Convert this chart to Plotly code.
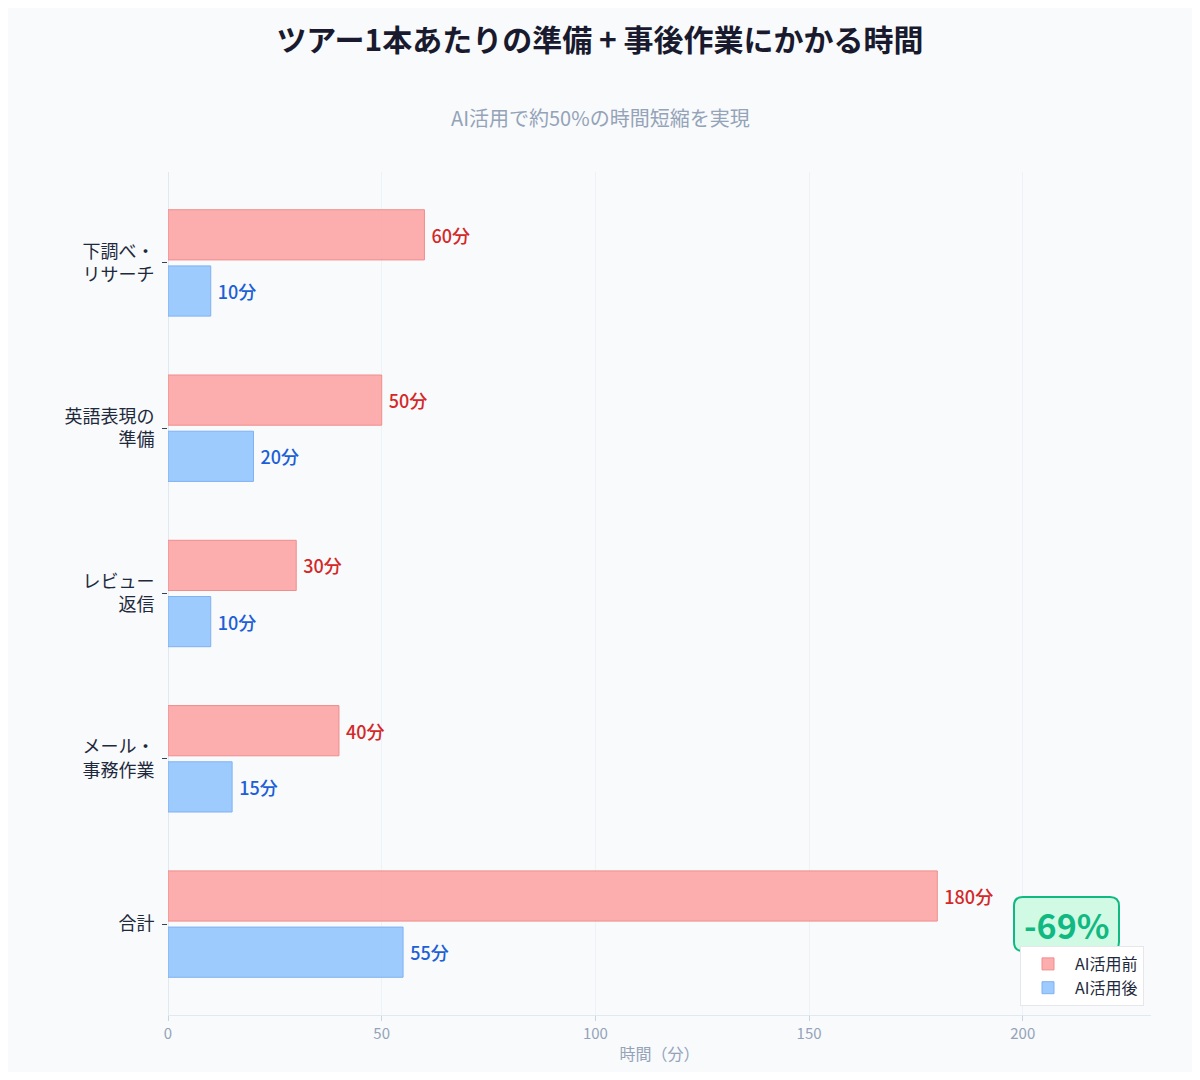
import plotly.graph_objects as go

categories = ["下調べ・<br>リサーチ", "英語表現の<br>準備", "レビュー<br>返信", "メール・<br>事務作業", "合計"]
before_vals = [60, 50, 30, 40, 180]
after_vals = [10, 20, 10, 15, 55]
series_names = ["AI活用前", "AI活用後"]
x_ticks = [0, 50, 100, 150, 200]

FONT = "Noto Sans CJK JP"

fig = go.Figure()
fig.add_trace(go.Bar(
    y=categories, x=before_vals, orientation="h", name=series_names[0],
    marker=dict(color="rgba(252,165,165,0.9)", line=dict(color="#f08c8c", width=1)),
    text=[f"\u00a0{v}分" for v in before_vals], textposition="outside",
    textfont=dict(color="#d42828", size=18, family=FONT, weight=500), cliponaxis=False,
))
fig.add_trace(go.Bar(
    y=categories, x=after_vals, orientation="h", name=series_names[1],
    marker=dict(color="rgba(147,197,253,0.9)", line=dict(color="#7fb1f3", width=1)),
    text=[f"\u00a0{v}分" for v in after_vals], textposition="outside",
    textfont=dict(color="#1d5fd6", size=18, family=FONT, weight=500), cliponaxis=False,
))

W, H = 1184, 1064
L, R, T, B = 160, 41, 164, 57
PW = W - L - R
PH = H - T - B

fig.update_layout(
    width=W, height=H,
    barmode="group", bargap=0.32, bargroupgap=0.107,
    paper_bgcolor="#f8fafc", plot_bgcolor="#f8fafc",
    margin=dict(l=L, r=R, t=T, b=B),
    font=dict(family=FONT, color="#1e293b"),
    title=dict(
        text="<b>ツアー1本あたりの準備 + 事後作業にかかる時間</b>",
        x=0.5, xanchor="center", y=1 - 32 / H, yanchor="middle",
        font=dict(size=30, color="#1a1a2e", family=FONT),
    ),
    legend=dict(
        x=(1144 - 168) / PW, y=(1015 - 1006) / PH, xanchor="right", yanchor="bottom",
        bgcolor="#ffffff", bordercolor="#e5e7eb", borderwidth=1,
        font=dict(size=16, color="#1e293b", family=FONT),
        traceorder="normal", itemwidth=44,
    ),
    xaxis=dict(
        range=[0, 230], tickvals=x_ticks, ticks="outside", ticklen=5, tickcolor="#cbd5e1",
        showgrid=True, gridcolor="#eef1f5", gridwidth=1,
        showline=True, linecolor="#e2e8f0", linewidth=1,
        zeroline=True, zerolinecolor="#e2e8f0", zerolinewidth=1,
        tickfont=dict(size=15, color="#94a3b8"),
        title=dict(text="時間（分）", font=dict(size=16, color="#94a3b8"), standoff=6),
    ),
    yaxis=dict(
        range=[4.55, -0.55], ticks="outside", ticklen=5, tickcolor="#334155",
        showgrid=False, showline=False, zeroline=False, ticklabelstandoff=4,
        tickfont=dict(size=18, color="#1e293b"),
    ),
)

fig.add_annotation(
    xref="paper", yref="paper", x=(600 - 168) / PW, y=1 + (172 - 118) / PH,
    text="AI活用で約50%の時間短縮を実現", showarrow=False,
    font=dict(size=20, color="#94a3b8", family=FONT), xanchor="center", yanchor="middle",
)

# rounded badge
x0, x1 = (1014 - 168) / PW, (1119 - 168) / PW
y0, y1 = (1015 - 951) / PH, (1015 - 897) / PH
rx, ry = 9 / PW, 9 / PH
path = (f"M {x0+rx},{y0} L {x1-rx},{y0} Q {x1},{y0} {x1},{y0+ry} "
        f"L {x1},{y1-ry} Q {x1},{y1} {x1-rx},{y1} L {x0+rx},{y1} "
        f"Q {x0},{y1} {x0},{y1-ry} L {x0},{y0+ry} Q {x0},{y0} {x0+rx},{y0} Z")
fig.add_shape(type="path", path=path, xref="paper", yref="paper",
              fillcolor="#d1fae5", line=dict(color="#10b981", width=2))
fig.add_annotation(
    xref="paper", yref="paper", x=(x0 + x1) / 2, y=(y0 + y1) / 2,
    text="<b>-69%</b>", showarrow=False,
    font=dict(size=34, color="#10b981", family=FONT), xanchor="center", yanchor="middle",
)

fig.write_html("out.html")
